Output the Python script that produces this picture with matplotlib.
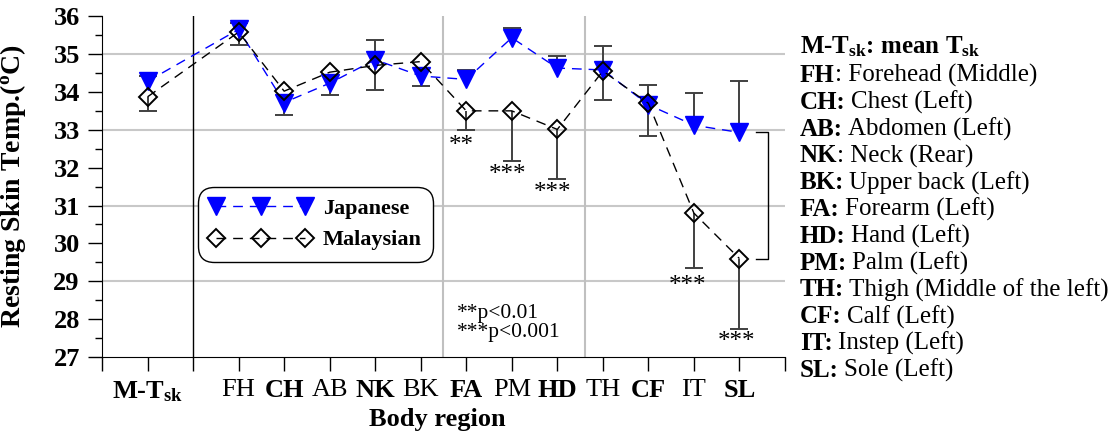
import matplotlib
matplotlib.use('Agg')
import matplotlib.pyplot as plt
from matplotlib.ticker import MultipleLocator

plt.rcParams['font.family'] = ['Liberation Serif', 'DejaVu Serif']
plt.rcParams['mathtext.fontset'] = 'custom'
plt.rcParams['mathtext.rm'] = 'Liberation Serif'
plt.rcParams['mathtext.bf'] = 'Liberation Serif:bold'
plt.rcParams['mathtext.it'] = 'Liberation Serif:italic'

# body regions (x positions on the axis, M-Tsk separated by a divider)
regions = ['M-T$_{\\mathbf{sk}}$', 'FH', 'CH', 'AB', 'NK', 'BK', 'FA', 'PM', 'HD',
           'TH', 'CF', 'IT', 'SL']
bold_tick = [True, False, True, False, True, False, True, False, True,
             False, True, False, True]
x_pos = [1, 3, 4, 5, 6, 7, 8, 9, 10, 11, 12, 13, 14]

japanese = [34.28, 35.65, 33.72, 34.23, 34.85, 34.42, 34.33, 35.43, 34.63,
            34.58, 33.66, 33.12, 32.93]
jp_err_lo = [0, 0, 0.32, 0.3, 0, 0.27, 0, 0, 0, 0, 0, 0, 0]
jp_err_hi = [0.14, 0.17, 0, 0, 0, 0, 0.24, 0.25, 0.32, 0.62, 0.52, 0.84, 1.35]

malaysian = [33.87, 35.58, 34.02, 34.52, 34.70, 34.80, 33.50, 33.50, 33.01,
             34.55, 33.70, 30.80, 29.60]
my_err_lo = [0.37, 0.34, 0, 0, 0.65, 0, 0.51, 1.32, 1.31, 0.77, 0.87, 1.45, 1.86]
my_err_hi = [0, 0, 0, 0, 0.67, 0, 0, 0, 0, 0, 0, 0, 0]

# significance marks: (x, y, text)
sig_x = [7.9, 8.9, 9.9, 12.86, 13.93]
sig_y = [32.57, 31.80, 31.33, 28.88, 27.40]
sig_txt = ['**', '***', '***', '***', '***']

legend_rows = [('FH', ': Forehead (Middle)'),
               ('CH:', 'Chest (Left)'),
               ('AB:', 'Abdomen (Left)'),
               ('NK', ': Neck (Rear)'),
               ('BK:', 'Upper back (Left)'),
               ('FA:', 'Forearm (Left)'),
               ('HD:', 'Hand (Left)'),
               ('PM:', 'Palm (Left)'),
               ('TH:', 'Thigh (Middle of the left)'),
               ('CF:', 'Calf (Left)'),
               ('IT:', 'Instep (Left)'),
               ('SL:', 'Sole (Left)')]

fig = plt.figure(figsize=(11.15, 4.37), dpi=100)
ax = fig.add_axes([0.0915, 0.183, 0.6125, 0.78])

# grid / separators
for yv in [29, 31, 33, 35]:
    ax.axhline(yv, color='#c8c8c8', lw=1.5, zorder=0)
ax.axvline(2, color='black', lw=1, zorder=1)
ax.axvline(7.5, color='#c0c0c0', lw=1.5, zorder=0)
ax.axvline(10.6, color='#c0c0c0', lw=1.5, zorder=0)


def err_bars(xs, ys, lo, hi):
    for x, y, l, h in zip(xs, ys, lo, hi):
        if l > 0:
            ax.vlines(x, y - l, y, color='#404040', lw=1.4, zorder=2)
            ax.plot(x, y - l, marker='_', ms=13, mew=1.4, color='#404040', zorder=2)
        if h > 0:
            ax.vlines(x, y, y + h, color='#404040', lw=1.4, zorder=2)
            ax.plot(x, y + h, marker='_', ms=13, mew=1.4, color='#404040', zorder=2)


err_bars(x_pos, japanese, jp_err_lo, jp_err_hi)
err_bars(x_pos, malaysian, my_err_lo, my_err_hi)

ax.plot(x_pos, japanese, color='blue', lw=1, ls=(0, (7, 5)), marker='v', ms=13,
        mfc='blue', mec='blue', label='Japanese', zorder=3)
ax.plot(x_pos, malaysian, color='black', lw=1, ls=(0, (7, 5)), marker='D', ms=9,
        mfc='none', mec='black', mew=1.4, label='Malaysian', zorder=4)

# bracket at SL
bx = x_pos[-1]
ax.plot([bx + 0.37, bx + 0.62, bx + 0.62, bx + 0.37],
        [japanese[-1], japanese[-1], malaysian[-1], malaysian[-1]],
        color='black', lw=1, zorder=2)

for sx, sy, st in zip(sig_x, sig_y, sig_txt):
    ax.text(sx, sy, st, ha='center', va='center', fontsize=18)

ax.text(7.8, 28.4, '**p<0.01\n***p<0.001', fontsize=15.5, ha='left', va='top',
        linespacing=1.0)

ax.set_xlim(0, 15)
ax.set_ylim(27, 36)
ax.set_xticks(range(0, 16))
ax.set_xticklabels(['' if i not in x_pos else regions[x_pos.index(i)] for i in range(16)],
                   fontsize=19)
for lbl, i in zip(ax.get_xticklabels(), range(16)):
    if i in x_pos and bold_tick[x_pos.index(i)]:
        lbl.set_fontweight('bold')
ax.yaxis.set_major_locator(MultipleLocator(1))
ax.yaxis.set_minor_locator(MultipleLocator(0.5))
ax.tick_params(axis='x', direction='out', length=10, width=1, pad=6)
ax.tick_params(axis='y', which='major', direction='out', length=10, width=1, labelsize=19,
               pad=6)
ax.tick_params(axis='y', which='minor', direction='out', length=5, width=1)
for lbl in ax.get_yticklabels():
    lbl.set_fontweight('bold')
ax.spines['top'].set_visible(False)
ax.spines['right'].set_visible(False)

ax.set_ylabel('Resting Skin Temp.($^{\\mathbf{o}}$C)', fontsize=20, fontweight='bold')
ax.yaxis.set_label_coords(-0.108, 0.5)
fig.text(437 / 1115, 1 - 426 / 437, 'Body region', fontsize=19, fontweight='bold',
         ha='center', va='baseline')

leg = ax.legend(loc='upper left', bbox_to_anchor=(0.141, 0.4985), borderaxespad=0,
                numpoints=3, handlelength=4.6, handletextpad=0.5,
                prop={'weight': 'bold', 'size': 16}, borderpad=0.5, labelspacing=0.5,
                frameon=True, fancybox=True, framealpha=1, edgecolor='black')
leg.get_frame().set_linewidth(1)
leg.get_frame().set_boxstyle('round', pad=0, rounding_size=0.7)

# right-side key
x0 = 800 / 1115
key_fs = 18
fig.text(x0, 1 - 53 / 437, 'M-T$_{\\mathbf{sk}}$: mean T$_{\\mathbf{sk}}$', fontsize=key_fs,
         fontweight='bold', va='baseline', ha='left')
fig.canvas.draw()
renderer = fig.canvas.get_renderer()
for k, (abbr, desc) in enumerate(legend_rows):
    yb = 1 - (82 + k * 26.8) / 437
    t = fig.text(x0, yb, abbr, fontsize=key_fs, fontweight='bold', va='baseline', ha='left')
    bb = t.get_window_extent(renderer)
    gap = 0 if desc.startswith(':') else 5
    fig.text((bb.x1 + gap) / fig.bbox.width, yb, desc, fontsize=key_fs, va='baseline',
             ha='left')

fig.savefig('out.png', dpi=100)
